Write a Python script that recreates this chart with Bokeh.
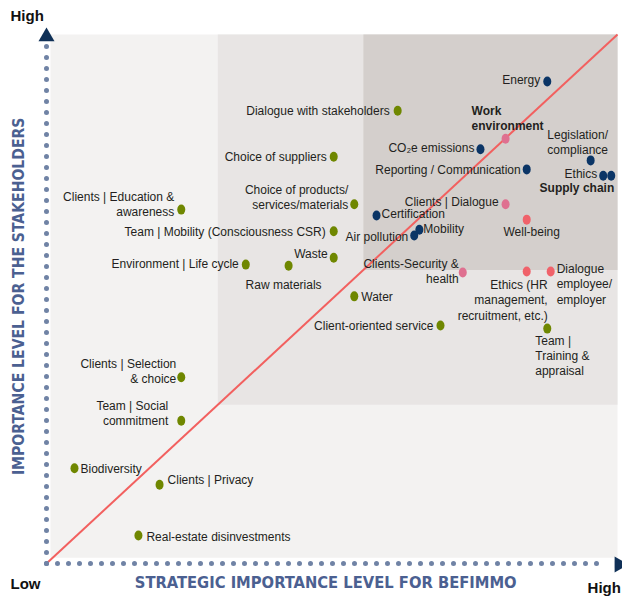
import numpy as np
from bokeh.plotting import figure
from bokeh.models import ColumnDataSource, Range1d
from bokeh.core.properties import value
from bokeh.embed import file_html
from bokeh.resources import INLINE

# ---------------- data (0-100: x = strategic importance for Befimmo, y = importance for stakeholders)
green_labels = ["Dialogue with stakeholders", "Choice of suppliers",
                "Choice of products/\nservices/materials",
                "Team | Mobility (Consciousness CSR)", "Waste", "Raw materials",
                "Environment | Life cycle", "Clients | Education &\nawareness",
                "Water", "Client-oriented service", "Team |\nTraining &\nappraisal",
                "Clients | Selection\n& choice", "Team | Social\ncommitment",
                "Biodiversity", "Clients | Privacy", "Real-estate disinvestments"]
green_x = [61.5, 50.3, 53.9, 50.3, 50.3, 42.4, 34.9, 23.6, 53.9, 69.0, 87.7, 23.6, 23.6, 4.9, 19.8, 16.1]
green_y = [85.6, 76.9, 67.9, 62.8, 57.8, 56.3, 56.5, 66.9, 50.5, 45.0, 44.4, 35.2, 27.0, 18.0, 14.9, 5.3]

navy_labels = ["Energy", "CO₂e emissions", "Reporting / Communication",
               "Legislation/\ncompliance", "Ethics", "Supply chain",
               "Certification", "Mobility", "Air pollution"]
navy_x = [87.7, 76.0, 84.1, 95.3, 97.5, 98.9, 57.8, 65.3, 64.4]
navy_y = [91.1, 78.3, 74.5, 76.2, 73.3, 73.3, 65.8, 63.1, 62.0]

pink_labels = ["Work\nenvironment", "Clients | Dialogue", "Clients-Security &\nhealth"]
pink_x = [80.4, 80.4, 72.9]
pink_y = [80.3, 67.9, 55.0]

salmon_labels = ["Well-being", "Ethics (HR\nmanagement,\nrecruitment, etc.)",
                 "Dialogue\nemployee/\nemployer"]
salmon_x = [84.1, 84.1, 88.3]
salmon_y = [65.0, 55.2, 55.2]

zone_bounds = [30.0, 55.5]          # limits of the mid / high materiality zones
bold_labels = ["Work\nenvironment", "Supply chain"]

x_title = "STRATEGIC IMPORTANCE LEVEL FOR BEFIMMO"
y_title = "IMPORTANCE LEVEL FOR THE STAKEHOLDERS"

# ---------------- label layout (screen px offsets, alignment)
LAYOUT = {
    "Dialogue with stakeholders": (-8, 0, "right"),
    "Choice of suppliers": (-7, 0, "right"),
    "Choice of products/\nservices/materials": (-6, -7, "right"),
    "Team | Mobility (Consciousness CSR)": (-8, 1, "right"),
    "Waste": (-6, -4, "right"),
    "Raw materials": (-5, 19, "center"),
    "Environment | Life cycle": (-7, -1, "right"),
    "Clients | Education &\nawareness": (-7, -5, "right"),
    "Water": (7, 1, "left"),
    "Client-oriented service": (-7, 1, "right"),
    "Team |\nTraining &\nappraisal": (-12, 27, "left"),
    "Clients | Selection\n& choice": (-5, -6, "right"),
    "Team | Social\ncommitment": (-13, -7, "right"),
    "Biodiversity": (6, 1, "left"),
    "Clients | Privacy": (8, -5, "left"),
    "Real-estate disinvestments": (8, 2, "left"),
    "Energy": (-7, -2, "right"),
    "CO₂e emissions": (-6, -1, "right"),
    "Reporting / Communication": (-6, 1, "right"),
    "Legislation/\ncompliance": (-13, -18, "center"),
    "Ethics": (-6, -2, "right"),
    "Supply chain": (3, 12, "right"),
    "Certification": (5, -1, "left"),
    "Mobility": (4, -1, "left"),
    "Air pollution": (-6, 1, "right"),
    "Work\nenvironment": (-34, -20, "left"),
    "Clients | Dialogue": (-7, -2, "right"),
    "Clients-Security &\nhealth": (-4, -1, "right"),
    "Well-being": (5, 12, "center"),
    "Ethics (HR\nmanagement,\nrecruitment, etc.)": (21, 29, "right"),
    "Dialogue\nemployee/\nemployer": (6, 13, "left"),
}

COLORS = {"green": "#6f8700", "navy": "#0b3566", "pink": "#df7090", "salmon": "#f0626a"}
TEXT_COLOR = "#231f20"
TITLE_COLOR = "#4b6091"
DOT_COLOR = "#7083a5"
ARROW_COLOR = "#0f3057"
FONT = "Liberation Sans"
TITLE_FONT = "'DejaVu Sans Condensed', 'Liberation Sans', sans-serif"

# ---------------- geometry: plot 0..100 maps onto the frame with margins for titles
W, H = 622, 597
PX_X = 5.71   # px per unit
PX_Y = 5.29
LEFT, BOTTOM = 46, 34
p = figure(width=W, height=H, output_backend="svg", toolbar_location=None,
           x_axis_location=None, y_axis_location=None, min_border=0,
           x_range=Range1d(-LEFT / PX_X, (W - LEFT) / PX_X),
           y_range=Range1d(-BOTTOM / PX_Y, (H - BOTTOM) / PX_Y))
p.outline_line_color = None
p.grid.visible = False
p.background_fill_color = "white"
p.border_fill_color = "white"

# background zones
p.quad(left=[0.7], right=[100], bottom=[1.1], top=[100], fill_color="#f3f2f1", line_color=None)
p.quad(left=[zone_bounds[0]], right=[100], bottom=[zone_bounds[0]], top=[100],
       fill_color="#e8e5e4", line_color=None)
p.quad(left=[zone_bounds[1]], right=[100], bottom=[zone_bounds[1]], top=[100],
       fill_color="#d4cfcc", line_color=None)

# diagonal
p.line([0, 100], [0, 100], line_color="#f2605f", line_width=2)

# dotted axes
p.line([0, 0], [0, 98.2], line_color=DOT_COLOR, line_width=5, line_dash="0 11", line_cap="round")
p.line([0, 98.2], [0, 0], line_color=DOT_COLOR, line_width=5, line_dash="0 11", line_cap="round")
p.scatter([0], [99.6], marker="triangle", size=16, fill_color=ARROW_COLOR, line_color=None)
p.scatter([100.3], [-0.2], marker="triangle", size=16, angle=-np.pi / 2,
          fill_color=ARROW_COLOR, line_color=None)

# points + labels
groups = [(green_labels, green_x, green_y, "green"), (navy_labels, navy_x, navy_y, "navy"),
          (pink_labels, pink_x, pink_y, "pink"), (salmon_labels, salmon_x, salmon_y, "salmon")]
for labels, xs, ys, col in groups:
    src = ColumnDataSource(dict(
        x=xs, y=ys, text=labels,
        dx=[LAYOUT[t][0] for t in labels], dy=[LAYOUT[t][1] for t in labels],
        align=[LAYOUT[t][2] for t in labels],
        style=["bold" if t in bold_labels else "normal" for t in labels]))
    p.ellipse("x", "y", width=8, height=10, width_units="screen", height_units="screen",
              source=src, fill_color=COLORS[col], line_color=None)
    p.text("x", "y", text="text", source=src, x_offset="dx", y_offset="dy",
           text_align="align", text_baseline="middle", text_font_style="style",
           text_font=value(FONT), text_font_size="12px", text_color=TEXT_COLOR,
           text_line_height=1.08)

# axis titles
p.text([48.9], [-3.6], text=[x_title], text_align="center", text_baseline="middle",
       text_font=value(TITLE_FONT), text_font_style="bold", text_font_size="16.4px",
       text_color=TITLE_COLOR)
p.text([-4.75], [50.5], text=[y_title], angle=np.pi / 2, text_align="center",
       text_baseline="middle", text_font=value(TITLE_FONT), text_font_style="bold",
       text_font_size="15.6px", text_color=TITLE_COLOR)

# corner labels
p.text([-6.3], [103.6], text=["High"], text_align="left", text_baseline="middle",
       text_font=value(FONT), text_font_style="bold", text_font_size="15px", text_color="#111111")
p.text([-6.3], [-3.8], text=["Low"], text_align="left", text_baseline="middle",
       text_font=value(FONT), text_font_style="bold", text_font_size="15px", text_color="#111111")
p.text([100.6], [-4.5], text=["High"], text_align="right", text_baseline="middle",
       text_font=value(FONT), text_font_style="bold", text_font_size="15px", text_color="#111111")

open("out.html", "w").write(file_html(p, INLINE))
